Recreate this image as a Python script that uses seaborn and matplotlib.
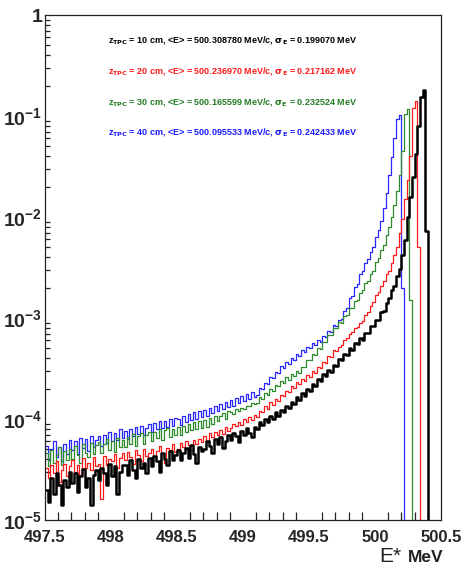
import numpy as np
import pandas as pd
import matplotlib
matplotlib.use("Agg")
import matplotlib.pyplot as plt
import seaborn as sns
from matplotlib.ticker import MultipleLocator, LogLocator, NullFormatter, FuncFormatter

# Reconstructed E* spectra: 150 bins of 0.02 MeV from 497.5 to 500.5 MeV.
# Bin contents are normalised per spectrum, stored in units of 1e-5.
e_lo, e_hi, n_bins = 497.5, 500.5, 150

black_10cm = [
    2.0, 1.5, 2.6, 1.8, 2.9, 2.2, 1.4, 2.5, 2.1, 3.0,
    2.3, 2.9, 1.9, 2.7, 3.2, 2.1, 2.6, 1.4, 2.8, 3.1,
    2.5, 3.3, 2.9, 2.2, 3.6, 2.7, 3.4, 1.8, 3.0, 3.5,
    3.5, 2.8, 3.9, 3.1, 2.6, 4.0, 3.3, 3.7, 2.9, 4.1,
    3.4, 4.3, 3.8, 3.0, 4.6, 4.0, 3.5, 4.8, 3.9, 4.4,
    4.9, 3.9, 4.6, 5.2, 4.1, 5.5, 4.5, 3.7, 5.3, 4.8,
    5.0, 6.0, 5.4, 4.6, 6.3, 5.7, 6.6, 5.2, 6.1, 7.0,
    6.2, 7.3, 6.8, 5.9, 7.6, 7.0, 8.1, 7.2, 6.7, 8.4,
    7.9, 9.3, 8.7, 10.1, 9.3, 10.8, 9.9, 11.6, 10.8, 12.4,
    11.6, 13.5, 12.8, 14.9, 14.0, 16.4, 15.5, 18.1, 17.0, 19.9,
    19.0, 22.1, 21.3, 24.9, 23.8, 27.6, 26.5, 30.6, 29.4, 34.3,
    33.4, 38.9, 38.2, 44.3, 43.0, 50.1, 48.6, 56.9, 55.3, 63.5,
    61, 71, 71, 83, 83, 95, 96, 114, 117, 141,
    156, 189, 206, 260, 305, 425, 595, 1010, 1590, 2510,
    4200, 8000, 15500, 18200, 720, 0, 0, 0, 0, 0,
]

red_20cm = [
    3.3, 2.6, 3.5, 2.9, 3.8, 2.4, 3.1, 3.6, 2.7, 3.4,
    3.9, 3.0, 3.5, 2.8, 4.1, 3.3, 3.7, 3.1, 4.2, 3.4,
    3.6, 1.6, 4.3, 3.5, 4.0, 3.8, 4.5, 3.3, 4.1, 4.6,
    3.9, 4.7, 4.2, 3.6, 4.9, 4.4, 3.8, 5.0, 4.3, 4.6,
    5.1, 4.2, 4.8, 5.4, 4.5, 3.7, 5.2, 4.9, 5.6, 4.7,
    5.0, 5.8, 5.3, 6.0, 5.5, 4.9, 6.2, 5.7, 6.4, 5.9,
    6.8, 6.1, 7.2, 6.6, 7.5, 6.9, 7.8, 7.1, 8.3, 7.6,
    8.1, 9.0, 8.6, 9.4, 8.8, 10.0, 9.3, 10.4, 9.8, 10.9,
    10.5, 12.0, 11.6, 13.3, 12.7, 14.6, 13.9, 15.9, 15.2, 17.4,
    16.8, 19.1, 18.4, 21.0, 20.2, 23.0, 22.1, 25.1, 24.0, 27.2,
    25.9, 29.8, 28.8, 32.9, 31.7, 36.9, 36.2, 42.1, 41.3, 48.0,
    47, 52, 54, 60, 63, 69, 72, 80, 82, 90,
    93, 106, 114, 132, 145, 169, 181, 209, 231, 270,
    295, 350, 420, 500, 700, 950, 1500, 2300, 4000, 12000,
    14200, 500, 0, 0, 0, 0, 0, 0, 0, 0,
]

green_30cm = [
    4.6, 3.4, 4.9, 3.7, 4.4, 5.3, 3.5, 4.8, 3.9, 5.1,
    4.0, 5.4, 4.4, 3.7, 5.6, 4.6, 4.2, 5.8, 4.5, 5.5,
    5.9, 4.6, 5.7, 6.3, 4.9, 6.0, 4.7, 6.5, 5.3, 6.2,
    5.3, 6.6, 5.7, 7.1, 5.4, 6.8, 7.2, 5.6, 7.0, 7.4,
    6.0, 7.5, 6.5, 7.9, 6.2, 7.7, 8.2, 6.6, 8.0, 7.0,
    8.3, 7.0, 8.6, 7.4, 9.0, 7.7, 9.3, 8.0, 9.6, 8.2,
    9.8, 8.4, 10.3, 9.0, 10.8, 9.5, 10.6, 11.4, 10.0, 11.9,
    11.6, 11.3, 12.5, 11.9, 12.8, 12.7, 13.4, 13.5, 14.3, 14.2,
    14.3, 16.4, 15.8, 18.1, 17.4, 19.9, 19.1, 21.9, 21.0, 24.0,
    22.9, 25.8, 24.6, 27.7, 26.4, 29.8, 28.8, 32.9, 32.6, 38.6,
    38.4, 43.9, 43.2, 50.1, 49.0, 57.4, 57.6, 67.9, 67.2, 79.4,
    79, 92, 90, 105, 108, 126, 126, 149, 151, 177,
    189, 222, 233, 270, 292, 360, 390, 472, 528, 665,
    800, 1000, 1300, 1800, 2600, 4500, 10500, 11700, 150, 0,
    0, 0, 0, 0, 0, 0, 0, 0, 0, 0,
]

blue_40cm = [
    5.4, 3.9, 5.0, 6.0, 4.2, 5.3, 3.8, 5.7, 4.5, 6.2,
    4.9, 6.1, 4.5, 6.5, 5.2, 6.3, 4.8, 6.8, 5.3, 6.2,
    6.8, 5.4, 7.0, 5.8, 7.5, 6.0, 7.3, 6.2, 7.9, 6.5,
    7.6, 6.3, 8.0, 6.8, 8.4, 7.1, 8.6, 6.9, 8.2, 8.9,
    7.5, 9.1, 7.9, 9.6, 8.1, 9.5, 8.3, 10.0, 8.5, 10.2,
    10.0, 8.7, 10.8, 9.4, 11.2, 9.7, 11.6, 10.0, 12.0, 10.5,
    12.3, 10.8, 12.9, 11.5, 13.5, 11.9, 14.2, 12.6, 14.7, 13.1,
    15.5, 13.6, 16.2, 14.4, 16.9, 15.0, 17.7, 15.7, 18.4, 16.6,
    17.3, 20.1, 19.6, 22.8, 22.3, 26.0, 25.3, 29.5, 28.7, 33.4,
    32.0, 36.6, 35.1, 40.0, 38.4, 43.7, 41.9, 47.8, 45.6, 51.7,
    49.9, 56.4, 54.2, 61.1, 57.6, 66.9, 65.3, 75.2, 73.4, 84.6,
    84, 96, 97, 118, 126, 156, 165, 203, 218, 270,
    292, 350, 381, 452, 510, 634, 738, 915, 1240, 1715,
    2600, 3900, 6000, 9300, 10200, 200, 0, 0, 0, 0,
    0, 0, 0, 0, 0, 0, 0, 0, 0, 0,
]

series_names = ["10 cm", "20 cm", "30 cm", "40 cm"]
series_values = [black_10cm, red_20cm, green_30cm, blue_40cm]
line_colors = ["#000000", "#ff1a1a", "#2e8b2e", "#2828ff"]
text_colors = ["#000000", "#ff1a1a", "#237a23", "#1a1aff"]
line_widths = [1.8, 0.9, 0.9, 0.9]
mean_energy = ["500.308780", "500.236970", "500.165599", "500.095533"]
sigma_energy = ["0.199070", "0.217162", "0.232524", "0.242433"]

edges = np.linspace(e_lo, e_hi, n_bins + 1)
centers = 0.5 * (edges[:-1] + edges[1:])

frames = []
for name, vals in zip(series_names, series_values):
    frames.append(pd.DataFrame({"E": centers,
                                "w": np.asarray(vals, float) * 1e-5,
                                "z": name}))
df = pd.concat(frames, ignore_index=True)

sns.set_theme(style="white")
plt.rcParams["font.family"] = ["Liberation Sans", "DejaVu Sans"]
plt.rcParams["mathtext.fontset"] = "custom"
plt.rcParams["mathtext.rm"] = "Liberation Sans:bold"
plt.rcParams["mathtext.bf"] = "Liberation Sans Narrow:bold"

W, H = 461, 567
fig = plt.figure(figsize=(W / 100, H / 100), dpi=100)
ax = fig.add_axes([45 / W, 1 - 520 / H, (441 - 45) / W, (520 - 15) / H])

# draw the 40 cm spectrum first so the black one sits on top
for name, col, lw in list(zip(series_names, line_colors, line_widths))[::-1]:
    sns.histplot(data=df[df["z"] == name], x="E", weights="w",
                 bins=n_bins, binrange=(e_lo, e_hi),
                 element="step", fill=False, color=col, linewidth=lw, ax=ax)

ax.set_yscale("log")
ax.set_xlim(e_lo, e_hi)
ax.set_ylim(1e-5, 1)
ax.set_xlabel("")
ax.set_ylabel("")

for sp in ax.spines.values():
    sp.set_color("#222222")
    sp.set_linewidth(0.9)

ax.xaxis.set_major_locator(MultipleLocator(0.5))
ax.xaxis.set_minor_locator(MultipleLocator(0.1))
ax.xaxis.set_major_formatter(FuncFormatter(lambda v, p: f"{v:g}"))
ax.yaxis.set_major_locator(LogLocator(base=10))
ax.yaxis.set_minor_locator(LogLocator(base=10, subs=np.arange(2, 10)))
ax.yaxis.set_minor_formatter(NullFormatter())
ax.yaxis.set_major_formatter(FuncFormatter(
    lambda v, p: "1" if abs(v - 1) < 1e-9 else r"$\mathrm{10^{%d}}$" % round(np.log10(v))))

ax.tick_params(axis="x", which="major", direction="in", length=11, width=0.9,
               color="#222222", labelsize=12, pad=7, top=False)
ax.tick_params(axis="x", which="minor", direction="in", length=5.5, width=0.9,
               color="#222222", top=False, bottom=True)
ax.tick_params(axis="y", which="major", direction="in", length=6, width=0.9,
               color="#222222", labelsize=14, pad=2, right=False)
ax.tick_params(axis="y", which="minor", direction="in", length=3.5, width=0.9,
               color="#222222", right=False, left=True)
for lab in ax.get_xticklabels():
    lab.set_fontweight("bold")
for lab in ax.get_yticklabels():
    lab.set_fontweight("bold")

# annotation lines with mean and width of each spectrum
text_y = [40, 71, 102, 132]
for name, m, s, col, yp in zip(series_names, mean_energy, sigma_energy, text_colors, text_y):
    label = (r"z$\mathbf{_{TPC}}$ = " + name + r", <E> = " + m +
             r" MeV/c, $\mathbf{\sigma_{E}}$ = " + s + " MeV")
    fig.text(108 / W, 1 - yp / H, label, color=col, fontsize=6.5,
             fontweight="bold", family=["Liberation Sans Narrow", "Liberation Sans", "DejaVu Sans"],
             ha="left", va="center")

# axis title
fig.text(401 / W, 1 - 556 / H, "E*", fontsize=15, ha="right", va="center", color="#222222")
fig.text(443 / W, 1 - 557 / H, "MeV", fontsize=12.5, fontweight="bold",
         ha="right", va="center", color="#222222")

fig.savefig("out.png", dpi=100, facecolor="white")
